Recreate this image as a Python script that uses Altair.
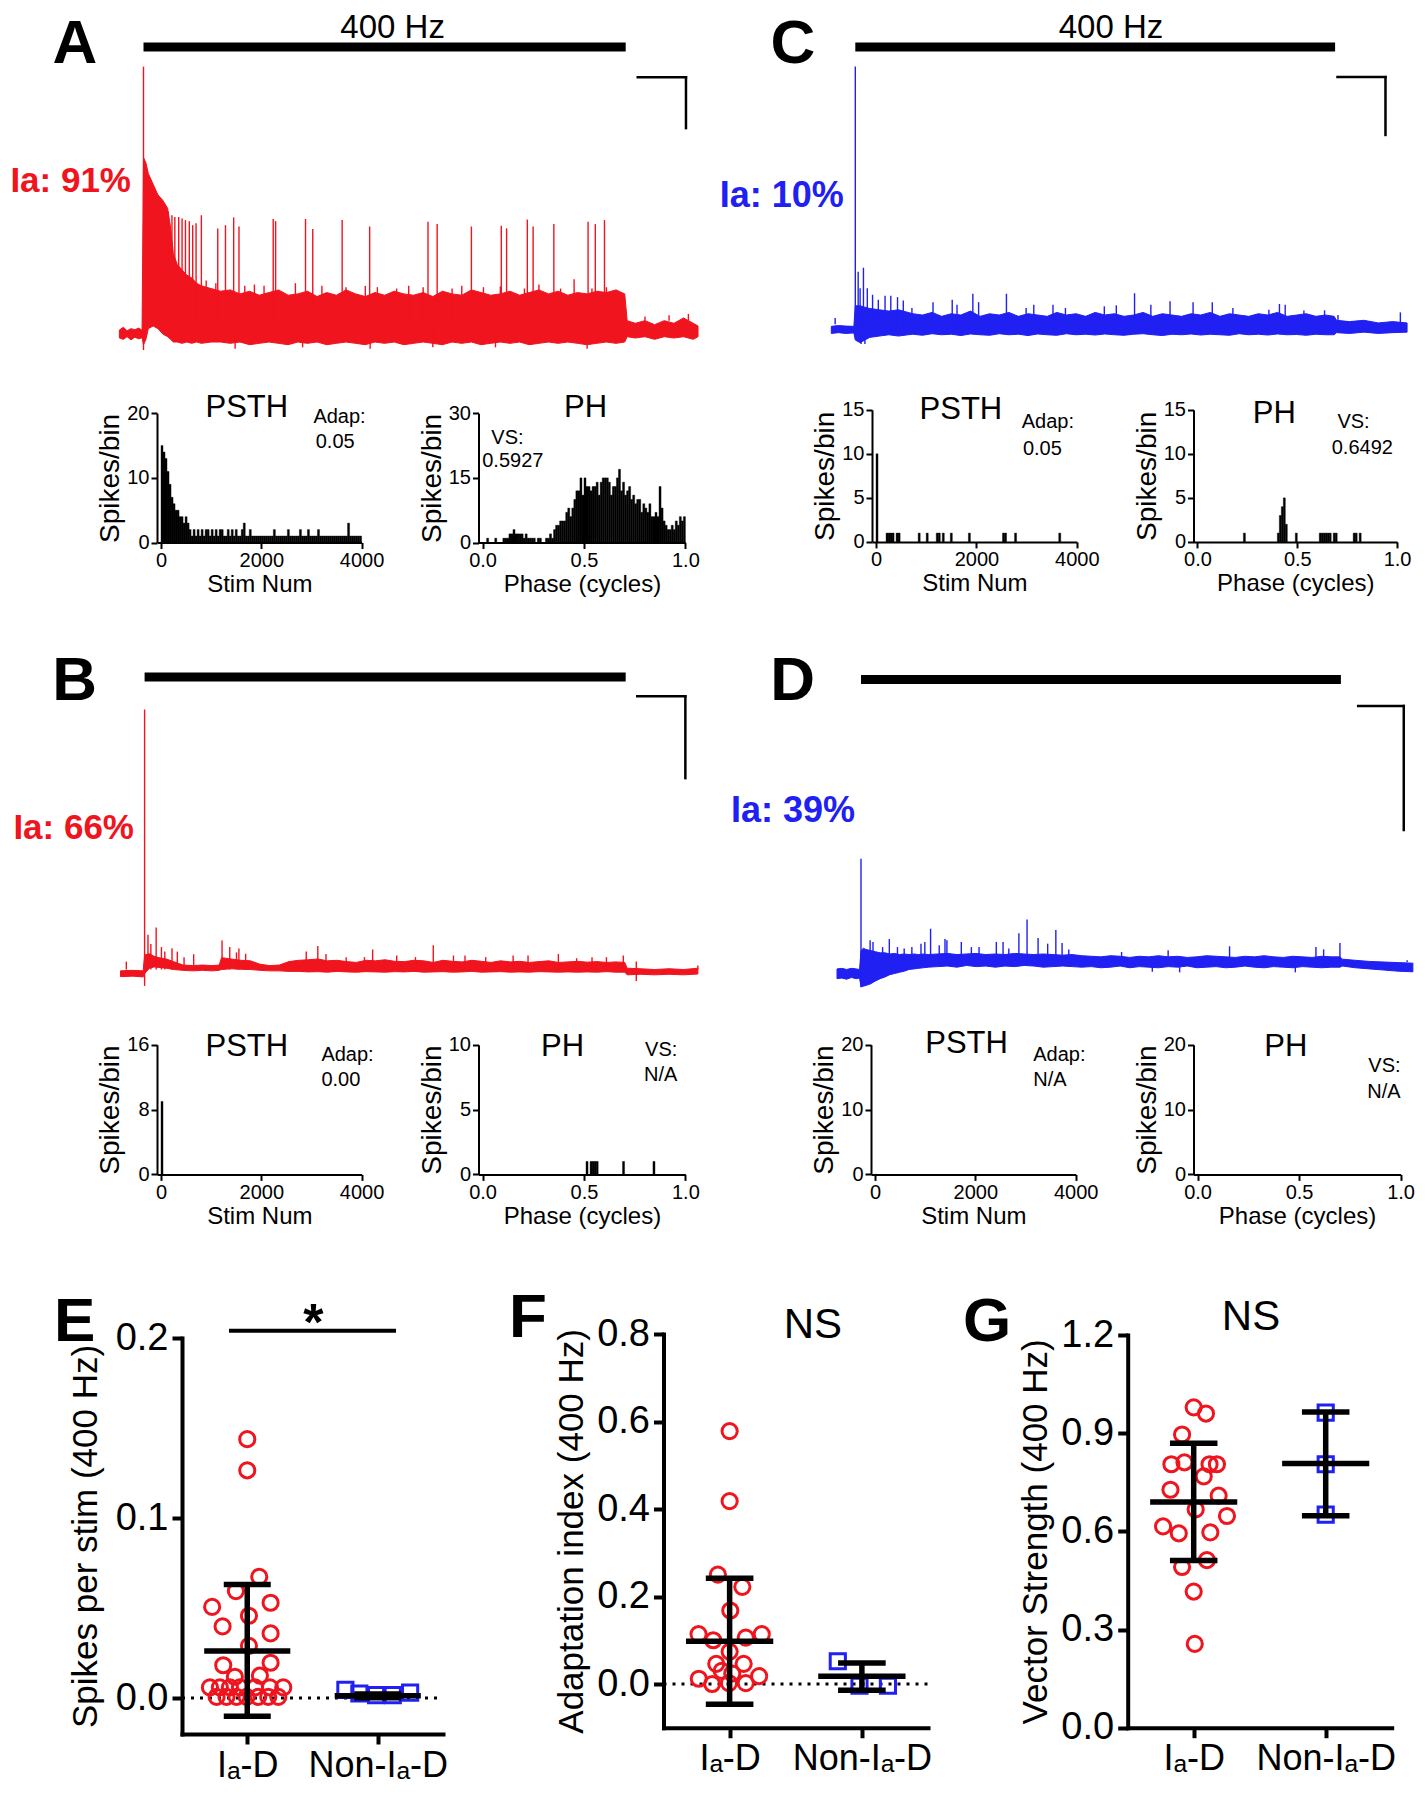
import altair as alt
import pandas as pd

# ============================ DATA ============================
# Traces: time (s, stimulus 0-10 s) , response in % of onset-spike height
A_env = [
    (-0.50, -1.5, 1.5), (-0.42, -2.0, 2.5), (-0.34, -1.0, 1.2), (-0.26, -2.2, 2.0), (-0.18, -1.2, 1.6), (-0.10, -1.8, 2.2), (-0.03, -1.4, 1.4),
    (0.00, -4, 66), (0.05, -2, 64), (0.10, 2, 60), (0.20, 3, 56), (0.30, 2, 52), (0.40, 0, 50), (0.50, -1, 47), (0.56, -2, 40),
    (0.62, -3, 30), (0.70, -3, 26), (0.80, -3.5, 24), (0.90, -3, 22), (1.00, -3.5, 21), (1.10, -3, 19), (1.20, -3.5, 18), (1.40, -3, 17),
    (1.6, -3, 16), (1.8, -3.5, 16.5), (2.0, -3, 15), (2.2, -4, 16), (2.4, -3.5, 14.5), (2.6, -3, 15.5), (2.8, -3.5, 16.5), (3.0, -4, 14.5), (3.2, -3, 15), (3.4, -3.5, 16),
    (3.6, -3, 14), (3.8, -4, 15.5), (4.0, -3.5, 14.5), (4.2, -3, 16.5), (4.4, -3.5, 15), (4.6, -4, 14), (4.8, -3, 15.5), (5.0, -3.5, 14.5), (5.2, -3, 16), (5.4, -4, 15),
    (5.6, -3.5, 14.5), (5.8, -3, 15.5), (6.0, -3.5, 14), (6.2, -4, 16), (6.4, -3, 15), (6.6, -3.5, 14.5), (6.8, -3, 16.5), (7.0, -4, 15.5), (7.2, -3.5, 14.5), (7.4, -3, 15),
    (7.6, -3.5, 16), (7.8, -3, 14.5), (8.0, -4, 15.5), (8.2, -3.5, 16.5), (8.4, -3, 15), (8.6, -3.5, 16), (8.8, -3, 14.5), (9.0, -3.5, 15.5), (9.2, -4, 15), (9.4, -3.5, 16),
    (9.6, -3, 15.5), (9.8, -3.5, 16.5), (9.98, -3, 15),
    (10.03, -1, 5), (10.2, -1.5, 4), (10.4, -1, 5), (10.6, -2, 3.5), (10.8, -1, 5), (11.0, -1.5, 4), (11.2, -1, 6), (11.4, -2, 4), (11.5, -1, 3)]
A_spikes = [
    (0.0, 100), (0.0, -6), (0.51, 45.7), (0.59, 44.4), (0.65, 43.8), (0.73, 43.8), (0.80, 43.2), (0.87, 42.6), (0.95, 42.2), (1.02, 40.7),
    (1.09, 41.4), (1.20, 44.4), (1.54, 39.5), (1.70, 40.7), (1.87, 43.6), (1.98, 40.2), (2.69, 43.0), (2.74, 42.2), (3.36, 43.0), (3.51, 39.3),
    (4.12, 42.6), (4.69, 40.2), (5.90, 42.0), (6.09, 41.1), (6.80, 40.2), (7.42, 40.5), (7.53, 39.5), (7.96, 42.8), (8.08, 40.2), (8.51, 41.1),
    (9.22, 42.0), (9.37, 41.1), (9.56, 42.6),
    (1.3, 20), (1.5, 19), (2.1, 18), (2.3, 18.5), (2.5, 18), (3.15, 19), (3.7, 18), (4.2, 17.5), (4.6, 18), (4.85, 17.5), (5.25, 17), (5.5, 18),
    (5.8, 17.5), (6.4, 17), (6.6, 18), (7.05, 17.5), (7.4, 17.8), (7.9, 17), (8.2, 18.5), (8.65, 17), (8.93, 20.5), (9.3, 17), (9.6, 17.5), (9.8, 16.5),
    (1.9, -5.5), (3.3, -5), (4.7, -5.5), (6.0, -5), (7.3, -5), (9.2, -5.5), (10.4, 6.5), (10.9, 7), (11.3, 7.5)]

C_env = [
    (-0.50, -1.5, 1.2), (-0.35, -1.2, 1.5), (-0.20, -1.5, 1.3), (-0.03, -1.3, 1.2),
    (0.00, -4, 9), (0.10, -5, 9), (0.20, -4, 8.5), (0.30, -3, 8), (0.50, -2.5, 7.5), (0.70, -2, 7), (0.90, -2.5, 7.5), (1.10, -2, 6.5),
    (1.2, -1.8, 6), (1.4, -2.2, 5.5), (1.6, -1.6, 6.5), (1.8, -2, 5), (2.0, -1.8, 6), (2.2, -2.3, 5.5), (2.4, -1.7, 7), (2.6, -2, 5), (2.8, -2.2, 6), (3.0, -1.6, 5.5),
    (3.2, -2, 6.5), (3.4, -1.8, 5), (3.6, -2.3, 6), (3.8, -1.7, 5.5), (4.0, -2, 5), (4.2, -2.2, 6.5), (4.4, -1.6, 5.5), (4.6, -2, 6), (4.8, -1.8, 5), (5.0, -2.1, 6.5),
    (5.2, -1.7, 5.5), (5.4, -2, 6), (5.6, -2.2, 5), (5.8, -1.8, 5.5), (6.0, -1.6, 6.5), (6.2, -2, 5), (6.4, -2.3, 6), (6.6, -1.8, 5.5), (6.8, -2, 5), (7.0, -1.7, 6),
    (7.2, -2.1, 5.5), (7.4, -1.8, 6.5), (7.6, -2, 5), (7.8, -2.2, 6), (8.0, -1.6, 5.5), (8.2, -2, 5), (8.4, -1.8, 6), (8.6, -2.1, 5.5), (8.8, -1.7, 6.5), (9.0, -2, 5),
    (9.2, -1.9, 5.5), (9.4, -2.2, 6), (9.6, -1.8, 5), (9.8, -2, 5.5), (9.98, -2, 5),
    (10.03, -1.2, 3.5), (10.3, -1.5, 3), (10.6, -1, 3.5), (10.9, -1.5, 2.5), (11.2, -1.2, 3), (11.5, -1, 2.5)]
C_spikes = [
    (-0.42, 4.4), (0.0, 100), (0.06, 22), (0.1, 15.7), (0.12, -5.5), (0.17, 23.5), (0.2, -5.5), (0.25, 15.7), (0.36, 13.2), (0.48, 11.3),
    (0.62, 12.8), (0.74, 12.8), (0.88, 12.3), (1.0, 11), (1.18, 8.2), (1.62, 10.4), (2.02, 11.3), (2.12, 9.4), (2.45, 13.6), (2.57, 10.4),
    (3.15, 13.6), (3.56, 8.2), (3.72, 9.4), (4.12, 9.4), (4.38, 8.2), (5.19, 8.8), (5.44, 9.2), (5.82, 13.8), (6.16, 9.4), (6.56, 10.7),
    (7.04, 10.4), (7.44, 10.4), (7.87, 8.2), (8.62, 7.5), (8.84, 9.7), (8.96, 9.4), (9.35, 7.2), (9.78, 7.3), (10.06, 5.5), (11.36, 6.5)]

B_env = [
    (-0.50, -1.2, 1), (-0.25, -1, 1.2), (-0.03, -1.3, 1),
    (0.00, 0, 7), (0.10, 2, 7.5), (0.20, 2.5, 6.5), (0.30, 2.3, 6), (0.45, 2, 5.5), (0.60, 1.5, 4.5), (0.80, 1.2, 3.2), (1.00, 1, 3), (1.20, 1.2, 3.2),
    (1.40, 1, 3), (1.55, 1.2, 3.2), (1.60, 1.5, 6), (1.80, 1.8, 5.5), (2.00, 1.6, 5), (2.20, 1.5, 4.8), (2.40, 1.2, 3.5), (2.60, 1, 3), (2.80, 1, 3.2),
    (3.0, 0.8, 4.5), (3.2, 0.8, 5), (3.4, 0.6, 5.2), (3.6, 0.7, 5.5), (3.8, 0.5, 4.8), (4.0, 0.8, 5), (4.2, 0.6, 4.5), (4.4, 0.5, 4.2), (4.6, 0.7, 5), (4.8, 0.6, 4.8),
    (5.0, 0.5, 5.2), (5.2, 0.7, 4.6), (5.4, 0.6, 4.5), (5.6, 0.8, 5), (5.8, 0.5, 4.8), (6.0, 0.6, 4.2), (6.2, 0.7, 5), (6.4, 0.5, 4.6), (6.6, 0.6, 4.4), (6.8, 0.8, 5),
    (7.0, 0.5, 4.6), (7.2, 0.6, 4.2), (7.4, 0.7, 4.8), (7.6, 0.5, 4.4), (7.8, 0.6, 4.6), (8.0, 0.5, 4.2), (8.2, 0.7, 4.5), (8.4, 0.6, 4.8), (8.6, 0.5, 4.2), (8.8, 0.6, 4.4),
    (9.0, 0.5, 4.6), (9.2, 0.6, 4.3), (9.4, 0.5, 4.5), (9.6, 0.7, 4.2), (9.8, 0.5, 4.4), (9.98, 0.5, 4.2),
    (10.03, -0.5, 2), (10.3, -0.3, 1.8), (10.6, -0.5, 1.5), (10.9, -0.3, 1.8), (11.2, -0.5, 1.5), (11.5, -0.2, 2)]
B_spikes = [
    (-0.38, 4.5), (0.0, 100), (0.0, -4.7), (0.07, 14.7), (0.13, 11.2), (0.24, 17.4), (0.35, 10), (0.42, 8.3), (0.57, 9.6), (0.68, 8.3),
    (0.82, 6.2), (1.02, 7.3), (1.61, 12.5), (1.77, 10), (1.91, 8), (1.96, 9.5), (2.1, 7.5), (3.36, 8.3), (3.6, 10.4), (3.77, 7.4),
    (4.19, 6.2), (4.57, 6.2), (4.74, 9.1), (5.24, 6.8), (5.63, 6.2), (6.0, 10.7), (6.42, 6.8), (6.66, 6.8), (7.09, 6.2), (7.66, 6.8),
    (7.97, 6.8), (8.6, 7.4), (8.98, 5.8), (9.3, 6.2), (9.6, 6.2), (9.95, 6.8), (10.22, 4.5), (10.22, -2.8), (11.5, 3.0)]

D_env = [
    (-0.50, -4.5, 4), (-0.40, -4, 4.5), (-0.30, -5, 3.5), (-0.20, -3.5, 4.5), (-0.10, -4.5, 4), (-0.03, -4, 3.5),
    (0.00, -11.5, 20), (0.05, -11, 22), (0.10, -10.5, 21), (0.20, -9, 20), (0.30, -6.5, 19), (0.40, -4.5, 18), (0.50, -3, 18), (0.60, -1, 17),
    (0.70, 0, 17.5), (0.80, 1, 16.5), (0.90, 2, 17), (1.00, 3.5, 16.5), (1.10, 4, 17), (1.20, 4.5, 16.5), (1.30, 5, 17), (1.40, 5.5, 16.5),
    (1.6, 6, 17), (1.8, 6.5, 17.5), (2.0, 5.5, 16.5), (2.2, 7, 17), (2.4, 6, 17.5), (2.6, 6.5, 16.5), (2.8, 5.5, 17), (3.0, 6.5, 16.5), (3.2, 6, 17.5), (3.4, 7, 17),
    (3.6, 6.5, 16.5), (3.8, 5.5, 17), (4.0, 6, 16.5), (4.2, 6.5, 16), (4.4, 6, 16.5),
    (4.6, 5.5, 15.5), (4.8, 6, 15), (5.0, 5, 14.5), (5.2, 5.5, 15.5), (5.4, 6.5, 15), (5.6, 5, 14), (5.8, 6, 15), (6.0, 5.5, 14.5), (6.2, 5, 15.5), (6.4, 6, 14.5),
    (6.6, 5.5, 15), (6.8, 6.5, 14), (7.0, 5, 14.5), (7.2, 5.5, 15.5), (7.4, 6, 15), (7.6, 5, 14.5), (7.8, 5.5, 14), (8.0, 6.5, 15), (8.2, 5.5, 14.5), (8.4, 5, 15.5),
    (8.6, 6, 14.5), (8.8, 5.5, 14), (9.0, 5, 15), (9.2, 6, 14.5), (9.4, 5.5, 14), (9.6, 5, 15), (9.8, 5.5, 14.5), (9.98, 5.5, 14.5),
    (10.03, 6.5, 12.5), (10.3, 5, 11.5), (10.6, 4, 10.5), (10.9, 3, 10), (11.2, 2, 9.5), (11.5, 1.5, 9)]
D_spikes = [
    (0.0, 100), (0.0, -12), (0.19, 29), (0.25, 27.5), (0.45, 23), (0.59, 30), (0.76, 23), (0.9, 21.7), (1.06, 23), (1.25, 26), (1.33, 27.5),
    (1.45, 39), (1.63, 24.6), (1.75, 30), (1.79, 29), (2.09, 27.5), (2.3, 23), (2.46, 23), (2.82, 27.5), (2.96, 27.5), (3.08, 21.7),
    (3.29, 35), (3.46, 47), (3.69, 31), (3.89, 26), (4.06, 38), (4.19, 26.6), (4.33, 21), (5.43, 18.7), (6.4, 20.2), (7.68, 23.7),
    (9.48, 23.1), (9.64, 21), (9.98, 26.6), (11.38, 11.5), (6.07, 1.5), (6.64, 1), (9.05, 1)]

STIM = (0.0, 10.0)  # 400 Hz train, seconds
# scale bars (t0, t1, v_top, v_bottom)
A_sbar = (10.25, 11.25, 96, 77)
C_sbar = (10.05, 11.05, 96, 74)
B_sbar = (10.24, 11.24, 105, 74)
D_sbar = (10.36, 11.31, 233, 125)

# Histograms: PSTH bins of 40 stimuli, PH bins of 0.01 cycle
PSTH_A = [15, 14, 13, 11, 9, 7, 6, 5, 5, 4, 4, 3, 4, 3, 2,
          1, 2, 1, 2, 1, 2, 1, 2, 2, 1, 2, 1, 2, 1, 2, 2, 1, 1, 2, 1, 2, 1, 2, 1, 1, 2,
          3, 1, 1, 2, 1, 1, 1, 1, 1, 1, 1, 1, 1, 1, 1, 2, 1, 1, 1, 1, 1, 1, 2, 1, 1, 1, 1, 1, 2, 1,
          1, 1, 2, 1, 1, 1, 1, 2, 1, 1, 1, 1, 1, 1, 1, 1, 1, 1, 1, 1, 1, 1, 3, 1, 1, 1, 1, 1, 1]
PH_A = [0, 0, 1, 0, 0, 0, 1, 0, 0, 0,
        1, 1, 1, 2, 2, 3, 2, 2,
        2, 2, 1, 2, 1, 1, 1,
        1, 0, 1, 1, 0, 0, 1, 1, 2, 1,
        3, 4, 4, 5, 5, 5, 7, 8, 6, 8,
        10, 12, 12, 15, 11, 15, 13, 13, 12, 13,
        13, 14, 11, 14, 15, 15, 15, 14, 11, 13,
        13, 15, 17, 12, 14, 11, 12, 13, 10, 11,
        9, 10, 10, 7, 9, 8, 7, 9, 6, 6,
        7, 6, 13, 8, 5, 4, 3, 3, 4, 3,
        5, 4, 6, 5, 6]
PSTH_C = [(0, 10), (5, 1), (6, 1), (7, 1), (8, 1), (10, 1), (11, 1), (21, 1), (25, 1), (30, 1), (31, 1),
          (33, 1), (37, 1), (46, 1), (63, 1), (64, 1), (69, 1), (91, 1)]
PH_C = [(23, 1), (40, 1), (41, 3), (42, 4), (43, 5), (44, 2), (49, 1), (61, 1), (62, 1), (63, 1), (64, 1),
        (65, 1), (66, 1), (68, 1), (69, 1), (78, 1), (79, 1), (81, 1)]
PSTH_B = [(0, 9)]
PH_B = [(51, 1), (53, 1), (54, 1), (55, 1), (56, 1), (69, 1), (84, 1)]
PSTH_D = [(0, 0)]
PH_D = [(0, 0)]

# Population panels: (jitter offset, value)
E_ia = [(0, 0.1438), (0, 0.1265), (0.092, 0.0673), (-0.087, 0.0594), (-0.269, 0.0506), (0.179, 0.0529), (0.013, 0.0457),
        (-0.189, 0.0398), (0.179, 0.0359), (0.013, 0.029), (-0.184, 0.0182), (0.179, 0.0196), (-0.095, 0.0118), (0.097, 0.0124),
        (-0.286, 0.0059), (-0.21, 0.0059), (-0.133, 0.0059), (-0.056, 0.0059), (0.059, 0.0059), (0.174, 0.0059), (0.276, 0.0059),
        (-0.235, 0.0006), (-0.159, 0.0006), (-0.082, 0.0006), (-0.005, 0.0006), (0.084, 0.0006), (0.161, 0.0006), (0.238, 0.0006)]
E_non = [(-0.248, 0.0045), (-0.141, 0.0025), (-0.013, 0.0016), (0.115, 0.0016), (0.248, 0.003)]
E_stats = [(0, 0.0261, -0.0102, 0.0631), (1, 0.0012, 0.0002, 0.0022)]
F_ia = [(0, 0.578), (0, 0.418), (-0.089, 0.25), (0.096, 0.222), (0.005, 0.168), (-0.235, 0.114), (-0.124, 0.1), (0.122, 0.106),
        (0.243, 0.114), (0, 0.074), (-0.101, 0.046), (0.106, 0.046), (-0.233, 0.012), (-0.132, 0.0), (-0.005, 0.002), (0.122, 0.002),
        (0.223, 0.018), (0.02, 0.024), (-0.06, 0.03)]
F_non = [(-0.182, 0.052), (-0.018, -0.004), (0.197, -0.004)]
F_stats = [(0, 0.0976, -0.046, 0.242), (1, 0.0176, -0.014, 0.048)]
G_ia = [(0, 0.979), (0.093, 0.96), (-0.088, 0.896), (-0.169, 0.805), (-0.07, 0.811), (0.12, 0.805), (0.176, 0.805), (0.076, 0.768),
        (-0.176, 0.727), (0.189, 0.709), (0.015, 0.667), (0.252, 0.647), (-0.232, 0.615), (-0.113, 0.594), (0.126, 0.597),
        (0.1, 0.512), (-0.088, 0.491), (0, 0.416), (0.008, 0.256)]
G_non = [(0, 0.963), (0, 0.805), (0, 0.651)]
G_stats = [(0, 0.69, 0.511, 0.869), (1, 0.807, 0.648, 0.965)]
SIG_E = (-0.14, 1.14, 0.204)

# ============================ STYLE / LAYOUT ============================
W, H = 1412, 1784
RED = "#f0141e"
BLUE = "#2020f2"
SANS = "Liberation Sans, Arial, Helvetica, sans-serif"
ONE = pd.DataFrame({"k": [0]})


def lin(domain, rng):
    return alt.Scale(domain=list(domain), range=list(rng), nice=False, zero=False)


def label(text, x, y, size, weight="normal", color="black", align="left"):
    return alt.Chart(ONE).mark_text(text=text, font=SANS, fontSize=size, fontWeight=weight, color=color,
                                    align=align, baseline="alphabetic").encode(x=alt.value(x), y=alt.value(y))


def trace(env, spikes, base, color, tx, vy, bar_y, sbar):
    ts = lin(STIM, tx)
    vs = lin((0, 100), vy)
    env_df = pd.DataFrame(env, columns=["t", "lo", "hi"])
    band = alt.Chart(env_df).mark_area(color=color, stroke=color, strokeWidth=1, opacity=1).encode(
        x=alt.X("t:Q", scale=ts, axis=None), y=alt.Y("hi:Q", scale=vs, axis=None), y2="lo:Q")
    sp_df = pd.DataFrame(spikes, columns=["t", "v"])
    sp = alt.Chart(sp_df).transform_calculate(b=str(base)).mark_rule(color=color, strokeWidth=1.4).encode(
        x=alt.X("t:Q", scale=ts, axis=None), y=alt.Y("v:Q", scale=vs, axis=None), y2="b:Q")
    stim = alt.Chart(pd.DataFrame({"t0": [STIM[0]], "t1": [STIM[1]]})).mark_rule(color="black", strokeWidth=9).encode(
        x=alt.X("t0:Q", scale=ts, axis=None), x2="t1:Q", y=alt.value(bar_y))
    sb = pd.DataFrame([sbar], columns=["t0", "t1", "v0", "v1"])
    sbh = alt.Chart(sb).mark_rule(color="black", strokeWidth=2.5, strokeCap="square").encode(
        x=alt.X("t0:Q", scale=ts, axis=None), x2="t1:Q", y=alt.Y("v0:Q", scale=vs, axis=None))
    sbv = alt.Chart(sb).mark_rule(color="black", strokeWidth=2.5, strokeCap="square").encode(
        x=alt.X("t1:Q", scale=ts, axis=None), y=alt.Y("v0:Q", scale=vs, axis=None), y2="v1:Q")
    return [band, sp, stim, sbh, sbv]


HAX = dict(grid=False, domainColor="black", domainWidth=2, tickColor="black", tickWidth=2, tickSize=6,
           labelFont=SANS, labelFontSize=20, labelColor="black", labelFlush=False, labelPadding=2,
           titleFont=SANS, titleFontWeight="normal", titleColor="black")


def histogram(bins, width, xdom, xr, ydom, yr, xvals, yvals, xfmt, xtitle):
    df = pd.DataFrame(bins, columns=["i", "c"])
    return alt.Chart(df).transform_calculate(
        s=f"datum.i * {width}", e=f"(datum.i + 1) * {width}", b="0"
    ).mark_rect(color="black", stroke="black", strokeWidth=0.4).encode(
        x=alt.X("s:Q", scale=lin(xdom, xr),
                axis=alt.Axis(orient="bottom", offset=yr[0] - H, values=xvals, format=xfmt, title=xtitle,
                              titleFontSize=24, titlePadding=2, **HAX)),
        x2="e:Q",
        y=alt.Y("c:Q", scale=lin(ydom, yr),
                axis=alt.Axis(orient="left", offset=-xr[0], values=yvals, title="Spikes/bin",
                              titleFontSize=28, titlePadding=2, **HAX)),
        y2="b:Q")


SAX = dict(grid=False, domainColor="black", domainWidth=4, domainCap="square", tickColor="black", tickWidth=4,
           tickSize=10, labelFont=SANS, labelColor="black", labelFlush=False, labelPadding=4,
           titleFont=SANS, titleFontWeight="normal", titleColor="black", titleFontSize=35)
CAT_LABELS = "datum.value == 0 ? 'I\u2090-D' : 'Non-I\u2090-D'"


def stat_panel(ia, non, stats, xr, ydom, yr, yvals, ytitle, tpad, zero_line):
    xs = lin((-0.5, 1.5), xr)
    ys = lin(ydom, yr)
    ia_df = pd.DataFrame(ia, columns=["dx", "v"])
    ia_df["g"] = 0
    non_df = pd.DataFrame(non, columns=["dx", "v"])
    non_df["g"] = 1
    st = pd.DataFrame(stats, columns=["g", "m", "lo", "hi"])
    out = []
    if zero_line:
        out.append(alt.Chart(pd.DataFrame({"y": [0.0]})).mark_rule(
            color="black", strokeWidth=3, strokeDash=[3, 6]).encode(
            x=alt.value(xr[0]), x2=alt.value(xr[1]), y=alt.Y("y:Q", scale=ys, axis=None)))
    out.append(alt.Chart(ia_df).transform_calculate(x="datum.g + datum.dx").mark_point(
        shape="circle", filled=False, color=RED, size=230, strokeWidth=3, opacity=1).encode(
        x=alt.X("x:Q", scale=xs, axis=alt.Axis(orient="bottom", offset=yr[0] - H, values=[0, 1],
                                                labelExpr=CAT_LABELS, title=None, labelFontSize=36, **SAX)),
        y=alt.Y("v:Q", scale=ys, axis=alt.Axis(orient="left", offset=-xr[0], values=yvals, format=".1f",
                                               title=ytitle, titlePadding=tpad, labelFontSize=38, **SAX))))
    out.append(alt.Chart(non_df).transform_calculate(x="datum.g + datum.dx").mark_point(
        shape="square", filled=False, color=BLUE, size=230, strokeWidth=3, opacity=1).encode(
        x=alt.X("x:Q", scale=xs, axis=None), y=alt.Y("v:Q", scale=ys, axis=None)))
    base = alt.Chart(st).transform_calculate(
        a="datum.g - 0.33", b="datum.g + 0.33", c="datum.g - 0.18", d="datum.g + 0.18")
    rule = dict(color="black", strokeWidth=5.5)
    out.append(base.mark_rule(**rule).encode(x=alt.X("a:Q", scale=xs, axis=None), x2="b:Q",
                                             y=alt.Y("m:Q", scale=ys, axis=None)))
    out.append(base.mark_rule(**rule).encode(x=alt.X("g:Q", scale=xs, axis=None),
                                             y=alt.Y("lo:Q", scale=ys, axis=None), y2="hi:Q"))
    out.append(base.mark_rule(**rule).encode(x=alt.X("c:Q", scale=xs, axis=None), x2="d:Q",
                                             y=alt.Y("lo:Q", scale=ys, axis=None)))
    out.append(base.mark_rule(**rule).encode(x=alt.X("c:Q", scale=xs, axis=None), x2="d:Q",
                                             y=alt.Y("hi:Q", scale=ys, axis=None)))
    return out, xs, ys


layers = []
# ---- traces ----
layers += trace(A_env, A_spikes, 5, RED, (135.5, 617.7), (326.0, 58.6), 39, A_sbar)
layers += trace(C_env, C_spikes, 2, BLUE, (847.3, 1327.1), (321.5, 58.6), 39, C_sbar)
layers += trace(B_env, B_spikes, 1.5, RED, (136.6, 617.7), (965.5, 701.5), 669, B_sbar)
layers += trace(D_env, D_spikes, 10, BLUE, (853.0, 1332.9), (965.5, 850.7), 671.6, D_sbar)

# ---- histograms (x domains start a little below 0 so bars clear the y axis) ----
PSTH_A_bins = list(enumerate(PSTH_A))
PH_A_bins = list(enumerate(PH_A))
PD = (-80, 4000)
HD = (-0.02, 1)
layers.append(histogram(PSTH_A_bins, 40, PD, (149, 353.6), (0, 20), (534.5, 405.3), [0, 2000, 4000], [0, 10, 20], "d", "Stim Num"))
layers.append(histogram(PH_A_bins, 0.01, HD, (470.5, 677.4), (0, 30), (534.5, 405.3), [0, 0.5, 1], [0, 15, 30], ".1f", "Phase (cycles)"))
layers.append(histogram(PSTH_C, 40, PD, (864, 1068.8), (0, 15), (533.9, 401.8), [0, 2000, 4000], [0, 5, 10, 15], "d", "Stim Num"))
layers.append(histogram(PH_C, 0.01, HD, (1185.5, 1389.1), (0, 15), (533.9, 401.8), [0, 0.5, 1], [0, 5, 10, 15], ".1f", "Phase (cycles)"))
layers.append(histogram(PSTH_B, 40, PD, (149, 353.6), (0, 16), (1166.4, 1036.7), [0, 2000, 4000], [0, 8, 16], "d", "Stim Num"))
layers.append(histogram(PH_B, 0.01, HD, (470.5, 677.4), (0, 10), (1166.4, 1036.7), [0, 0.5, 1], [0, 5, 10], ".1f", "Phase (cycles)"))
layers.append(histogram(PSTH_D, 40, PD, (863, 1067.7), (0, 20), (1166.4, 1036.7), [0, 2000, 4000], [0, 10, 20], "d", "Stim Num"))
layers.append(histogram(PH_D, 0.01, HD, (1185.5, 1392.6), (0, 20), (1166.4, 1036.7), [0, 0.5, 1], [0, 10, 20], ".1f", "Phase (cycles)"))

# ---- population panels ----
e_layers, e_xs, e_ys = stat_panel(E_ia, E_non, E_stats, (174, 435), (-0.02, 0.2), (1726, 1330), [0, 0.1, 0.2],
                                  "Spikes per stim (400 Hz)", 12, True)
f_layers, _, _ = stat_panel(F_ia, F_non, F_stats, (655.5, 920), (-0.1, 0.8), (1719.75, 1326), [0, 0.2, 0.4, 0.6, 0.8],
                            "Adaptation index (400 Hz)", 7, True)
g_layers, _, _ = stat_panel(G_ia, G_non, G_stats, (1119.7, 1383.7), (0, 1.2), (1719.7, 1327), [0, 0.3, 0.6, 0.9, 1.2],
                            "Vector Strength (400 Hz)", 7, False)
layers += e_layers + f_layers + g_layers
sig = pd.DataFrame([SIG_E], columns=["x0", "x1", "y"])
layers.append(alt.Chart(sig).mark_rule(color="black", strokeWidth=4).encode(
    x=alt.X("x0:Q", scale=e_xs, axis=None), x2="x1:Q", y=alt.Y("y:Q", scale=e_ys, axis=None)))

# ---- text labels ----
layers += [
    label("A", 67, 55, 62, "bold", align="center"),
    label("C", 785, 55, 62, "bold", align="center"),
    label("B", 66.6, 692, 62, "bold", align="center"),
    label("D", 784.7, 692, 62, "bold", align="center"),
    label("400 Hz", 384.6, 30, 33, align="center"),
    label("400 Hz", 1103, 30, 33, align="center"),
    label("Ia: 91%", 123, 183.7, 35, "bold", RED, "right"),
    label("Ia: 10%", 835.8, 198.6, 36, "bold", BLUE, "right"),
    label("Ia: 66%", 126, 831, 35, "bold", RED, "right"),
    label("Ia: 39%", 847, 814, 36, "bold", BLUE, "right"),
    # A histograms
    label("PSTH", 238.8, 408.7, 31, align="center"),
    label("Adap:", 305.4, 414.5, 20), label("0.05", 307.7, 439.7, 20),
    label("PH", 577.5, 408.7, 31, align="center"),
    label("VS:", 483.3, 436.3, 20), label("0.5927", 474.2, 459.2, 20),
    # C histograms
    label("PSTH", 952.9, 411, 31, align="center"),
    label("Adap:", 1013.7, 420.2, 20), label("0.05", 1014.9, 446.6, 20),
    label("PH", 1266.3, 414.5, 31, align="center"),
    label("VS:", 1329.4, 420.2, 20), label("0.6492", 1323.7, 445.5, 20),
    # B histograms
    label("PSTH", 238.8, 1048.2, 31, align="center"),
    label("Adap:", 313.4, 1052.8, 20), label("0.00", 313.4, 1078, 20),
    label("PH", 554.5, 1048.2, 31, align="center"),
    label("VS:", 669.3, 1048.2, 20, align="right"), label("N/A", 669.3, 1073.4, 20, align="right"),
    # D histograms
    label("PSTH", 958.6, 1044.7, 31, align="center"),
    label("Adap:", 1025.2, 1052.8, 20), label("N/A", 1025.2, 1078, 20),
    label("PH", 1277.8, 1048.2, 31, align="center"),
    label("VS:", 1392.6, 1064.2, 20, align="right"), label("N/A", 1392.6, 1089.5, 20, align="right"),
    # population panels
    label("E", 66.6, 1333, 62, "bold", align="center"),
    label("F", 520, 1329, 62, "bold", align="center"),
    label("G", 979, 1333, 62, "bold", align="center"),
    label("*", 305.4, 1332, 52, "bold", align="center"),
    label("NS", 804.8, 1330, 42, align="center"),
    label("NS", 1243, 1322, 42, align="center"),
]

chart = alt.layer(*layers).resolve_scale(x="independent", y="independent").properties(
    width=W, height=H, autosize=alt.AutoSizeParams(type="none"), padding=0, background="white"
).configure_view(stroke=None)

chart.save("out.html", embed_options={"renderer": "svg", "actions": False})
